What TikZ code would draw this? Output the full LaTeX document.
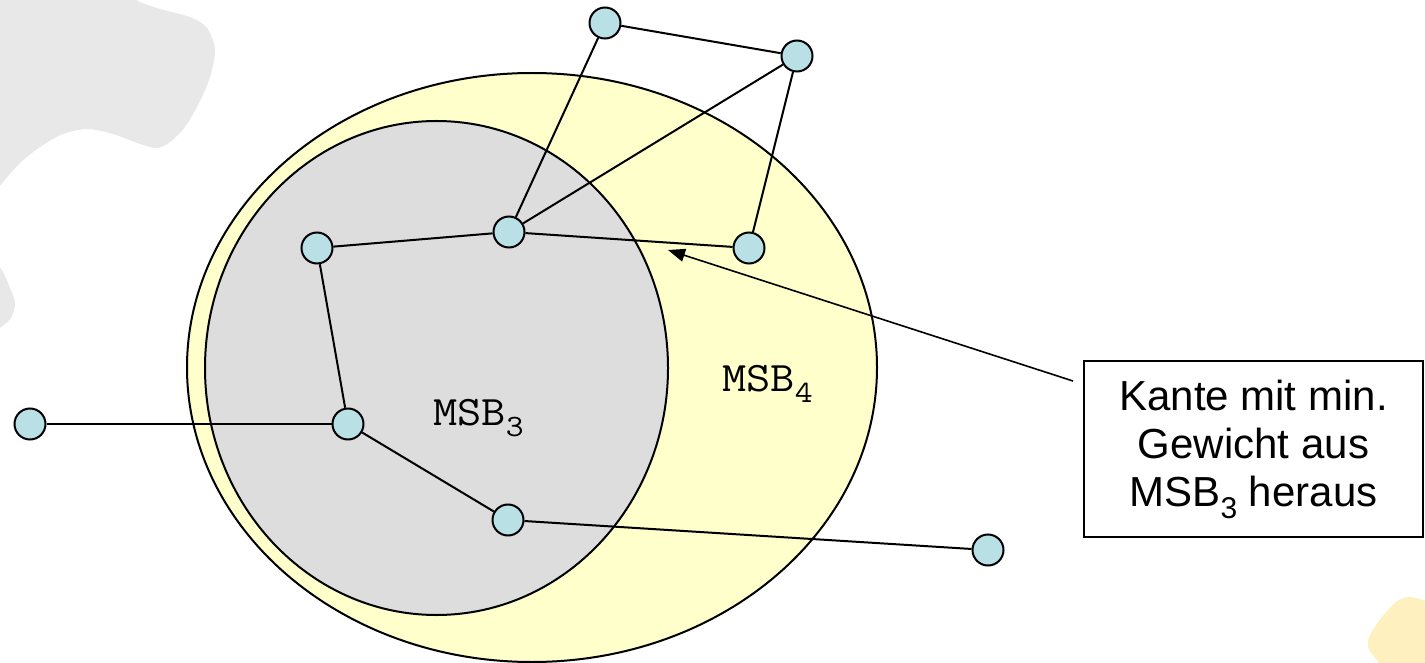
\documentclass[tikz,border=0pt]{standalone}
\usepackage{fontspec}
\setmainfont{Liberation Sans}
\usetikzlibrary{arrows.meta}

\definecolor{vertexfill}{RGB}{185,224,228}
\definecolor{outerfill}{RGB}{255,255,204}
\definecolor{innerfill}{RGB}{221,221,221}
\definecolor{blobgray}{RGB}{232,232,232}
\definecolor{blobyellow}{RGB}{255,241,191}

% set name with a lowered index, in a wide typewriter face
\newcommand\msbname[1]{\scalebox{1.12}[1]{MSB\raisebox{-11pt}{\fontsize{31}{31}\selectfont #1}}}

\begin{document}
\begin{tikzpicture}[x=1pt,y=-1pt,
  vertex/.style={circle,draw,line width=2pt,fill=vertexfill,minimum size=31pt,inner sep=0pt},
  edge/.style={line width=2pt},
  region/.style={draw,line width=2pt},
  setlabel/.style={inner sep=0pt,anchor=base west,font=\fontsize{42}{42}\selectfont\ttfamily},
  notebox/.style={draw,line width=1.5pt,fill=white,minimum width=339pt,minimum height=176pt,
    inner sep=0pt,align=center,font=\fontsize{42}{48}\selectfont},
  pointer/.style={line width=1.6pt,-{Triangle[length=17pt,width=13pt]}}
]
\useasboundingbox (0,0) rectangle (1425,663);

% decorative background blobs
\fill[blobgray] plot[smooth] coordinates {(128,-6) (140,2) (160,9) (190,17) (207,28) (215,50)
  (210,77) (199,103) (185,127) (170,142) (157,148) (140,144) (113,134) (87,129) (63,134)
  (40,147) (18,165) (-6,193)} -- (-6,-6) -- cycle;
\fill[blobgray] plot[smooth] coordinates {(-6,260) (3,272) (10,288) (15,303) (11,318) (0,328) (-6,333)} -- cycle;
\fill[blobyellow] plot[smooth] coordinates {(1432,604) (1420,599) (1408,597) (1396,602)
  (1382,617) (1370,635) (1368,647) (1374,657) (1386,670)} -- (1432,670) -- cycle;

% the two spanning subtrees
\draw[region,fill=outerfill] (532,367.5) ellipse [x radius=345, y radius=294.5];
\draw[region,fill=innerfill] (436.5,368) ellipse [x radius=231.5, y radius=247];

\node[setlabel] (msb3) at (433,425) {\msbname{3}};
\node[setlabel] (msb4) at (722,391) {\msbname{4}};

% vertices
\node[vertex] (a) at (605,23) {};
\node[vertex] (b) at (797,56) {};
\node[vertex] (c) at (317,248) {};
\node[vertex] (d) at (509,232) {};
\node[vertex] (e) at (749,248) {};
\node[vertex] (f) at (30,424) {};
\node[vertex] (g) at (348,424) {};
\node[vertex] (h) at (508,520) {};
\node[vertex] (i) at (988,550) {};

% edges
\draw[edge] (a) -- (b);
\draw[edge] (a) -- (d);
\draw[edge] (b) -- (d);
\draw[edge] (b) -- (e);
\draw[edge] (c) -- (d);
\draw[edge] (d) -- (e);
\draw[edge] (c) -- (g);
\draw[edge] (f) -- (g);
\draw[edge] (g) -- (h);
\draw[edge] (h) -- (i);

% annotation
\node[notebox] (note) at (1253.5,449) {Kante mit min.\\Gewicht aus\\MSB\raisebox{-12pt}{\fontsize{30}{30}\selectfont 3} heraus};
\coordinate (tail) at (1073,381);
\coordinate (tip) at (668,250);
\draw[pointer] (tail) -- (tip);
\end{tikzpicture}
\end{document}
